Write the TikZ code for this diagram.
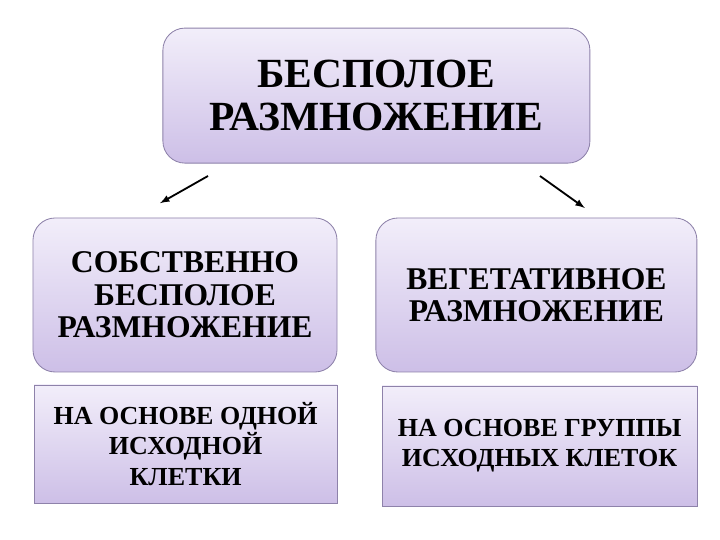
\documentclass[tikz,border=0pt]{standalone}
\usepackage{fontspec}
\setmainfont{Liberation Serif}
\usepackage{tikz}

\definecolor{boxtop}{HTML}{F2EEFA}
\definecolor{boxbot}{HTML}{CDBFE7}
\definecolor{boxline}{HTML}{8E82AA}

\begin{document}
\begin{tikzpicture}[
  roundbox/.style={draw=boxline, line width=0.6pt, rounded corners=0.55cm,
    top color=boxtop, bottom color=boxbot, align=center, inner sep=0pt,
    font=\bfseries},
  flatbox/.style={draw=boxline, line width=0.6pt,
    top color=boxtop, bottom color=boxbot, align=center, inner sep=0pt,
    font=\bfseries}
]
\useasboundingbox (0,0) rectangle (18,13.5);
\fill[white] (0,0) rectangle (18,13.5);
\node[roundbox, minimum width=10.675cm, minimum height=3.375cm,
  font=\bfseries\fontsize{29.5}{31}\selectfont] (root) at (9.41,11.11)
  {БЕСПОЛОЕ\\РАЗМНОЖЕНИЕ};
\node[roundbox, minimum width=7.6cm, minimum height=3.85cm,
  font=\bfseries\fontsize{22.5}{23}\selectfont] (own) at (4.625,6.125)
  {СОБСТВЕННО\\БЕСПОЛОЕ\\РАЗМНОЖЕНИЕ};
\node[roundbox, minimum width=8.025cm, minimum height=3.85cm,
  font=\bfseries\fontsize{22.5}{23}\selectfont] (veg) at (13.41,6.125)
  {ВЕГЕТАТИВНОЕ\\РАЗМНОЖЕНИЕ};
\node[flatbox, minimum width=7.575cm, minimum height=2.95cm,
  font=\bfseries\fontsize{18.5}{21.5}\selectfont] (onecell) at (4.64,2.4)
  {НА ОСНОВЕ ОДНОЙ\\ИСХОДНОЙ\\КЛЕТКИ};
\node[flatbox, minimum width=7.875cm, minimum height=3.0cm,
  font=\bfseries\fontsize{18.5}{21.5}\selectfont] (groupcell) at (13.49,2.35)
  {НА ОСНОВЕ ГРУППЫ\\ИСХОДНЫХ КЛЕТОК};
% arrows
\coordinate (lfrom) at (5.2,9.1);
\coordinate (lto) at (4.0,8.42);
\coordinate (rfrom) at (13.5,9.1);
\coordinate (rto) at (14.62,8.3);
\draw[-latex, line width=1.3pt] (lfrom) -- (lto);
\draw[-latex, line width=1.3pt] (rfrom) -- (rto);
\end{tikzpicture}
\end{document}
